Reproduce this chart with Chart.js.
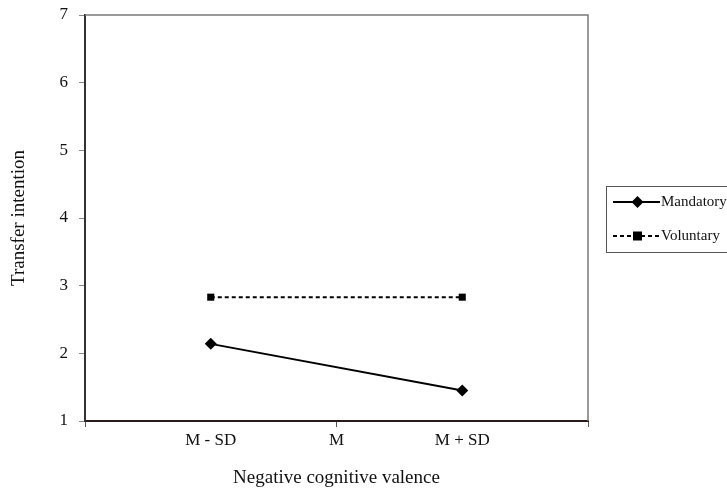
<!DOCTYPE html>
<html>
<head>
<meta charset="utf-8">
<script src="https://cdn.jsdelivr.net/npm/chart.js@4"></script>
<style>
  html, body { margin: 0; padding: 0; background: #fff; }
  #wrap { width: 727px; height: 489px; }
</style>
</head>
<body>
<div id="wrap"><canvas id="chart" width="727" height="489"></canvas></div>
<script>
// x positions on a 0..4 axis, labels sit at 1, 2, 3
const xLabels = { 1: 'M - SD', 2: 'M', 3: 'M + SD' };
const xPositions = [1, 3];
const mandatory = [2.14, 1.45];
const voluntary = [2.83, 2.83];
const seriesNames = ['Mandatory', 'Voluntary'];

const serif = '"Liberation Serif", "Times New Roman", serif';

// box around the plot + legend on the right
const frameAndLegend = {
    id: 'frameAndLegend',
    afterDraw(chart) {
        const ctx = chart.ctx;
        const a = chart.chartArea;
        ctx.save();
        ctx.strokeStyle = '#7a7a7a';
        ctx.lineWidth = 1.5;
        ctx.beginPath();
        ctx.moveTo(a.left, a.top);
        ctx.lineTo(a.right, a.top);
        ctx.lineTo(a.right, a.bottom);
        ctx.stroke();

        // legend
        const bx = 606, by = 186, bw = 140, bh = 66;
        ctx.strokeStyle = '#555';
        ctx.lineWidth = 1;
        ctx.strokeRect(bx + 0.5, by + 0.5, bw, bh);
        ctx.font = '15px ' + serif;
        ctx.textBaseline = 'middle';
        chart.data.datasets.forEach((ds, i) => {
            const y = by + 16 + i * 34;
            ctx.strokeStyle = '#000';
            ctx.lineWidth = 2;
            ctx.setLineDash(ds.borderDash || []);
            ctx.beginPath();
            ctx.moveTo(613, y);
            ctx.lineTo(660, y);
            ctx.stroke();
            ctx.setLineDash([]);
            ctx.fillStyle = '#000';
            if (ds.pointStyle === 'rect') {
                ctx.fillRect(633, y - 4.5, 9, 9);
            } else {
                ctx.beginPath();
                ctx.moveTo(637.5, y - 6);
                ctx.lineTo(643.5, y);
                ctx.lineTo(637.5, y + 6);
                ctx.lineTo(631.5, y);
                ctx.closePath();
                ctx.fill();
            }
            ctx.fillStyle = '#111';
            ctx.fillText(ds.label, 661, y);
        });
        ctx.restore();
    }
};

new Chart(document.getElementById('chart'), {
    type: 'line',
    data: {
        datasets: [
            {
                label: seriesNames[0],
                data: xPositions.map((x, i) => ({ x: x, y: mandatory[i] })),
                borderColor: '#000',
                backgroundColor: '#000',
                borderWidth: 2,
                pointStyle: 'rectRot',
                pointRadius: 6,
                pointBorderWidth: 0
            },
            {
                label: seriesNames[1],
                data: xPositions.map((x, i) => ({ x: x, y: voluntary[i] })),
                borderColor: '#000',
                backgroundColor: '#000',
                borderWidth: 2,
                borderDash: [4, 3],
                pointStyle: 'rect',
                pointRadius: 5,
                pointBorderWidth: 0
            }
        ]
    },
    options: {
        animation: false,
        responsive: false,
        layout: { padding: { left: 6, top: 15, right: 139, bottom: 0 } },
        plugins: {
            legend: { display: false },
            tooltip: { enabled: false }
        },
        scales: {
            x: {
                type: 'linear',
                min: 0,
                max: 4,
                afterBuildTicks: (s) => { s.ticks = [0, 1, 2, 3, 4].map(v => ({ value: v })); },
                afterFit: (s) => { s.height = 68; s.paddingLeft = 0; s.paddingRight = 0; },
                ticks: {
                    callback: (v) => xLabels[v] || '',
                    font: { family: serif, size: 17 },
                    color: '#111',
                    padding: 3,
                    maxRotation: 0
                },
                grid: {
                    drawOnChartArea: false,
                    tickLength: 6,
                    tickColor: (c) => (c.tick && c.tick.value % 2 === 0) ? '#555' : 'rgba(0,0,0,0)'
                },
                border: { color: '#2a1a1a', width: 2 },
                title: {
                    display: true,
                    text: 'Negative cognitive valence',
                    font: { family: serif, size: 19 },
                    color: '#111',
                    padding: { top: 10, bottom: 0 }
                }
            },
            y: {
                min: 1,
                max: 7,
                afterFit: (s) => { s.width = 79; s.paddingTop = 0; s.paddingBottom = 0; },
                ticks: {
                    stepSize: 1,
                    font: { family: serif, size: 17 },
                    color: '#111',
                    padding: 11
                },
                grid: {
                    drawOnChartArea: false,
                    tickLength: 6,
                    tickColor: '#888'
                },
                border: { color: '#333', width: 2 },
                title: {
                    display: true,
                    text: 'Transfer intention',
                    font: { family: serif, size: 19 },
                    color: '#111',
                    padding: { top: 2, bottom: 0 }
                }
            }
        }
    },
    plugins: [frameAndLegend]
});
</script>
</body>
</html>
